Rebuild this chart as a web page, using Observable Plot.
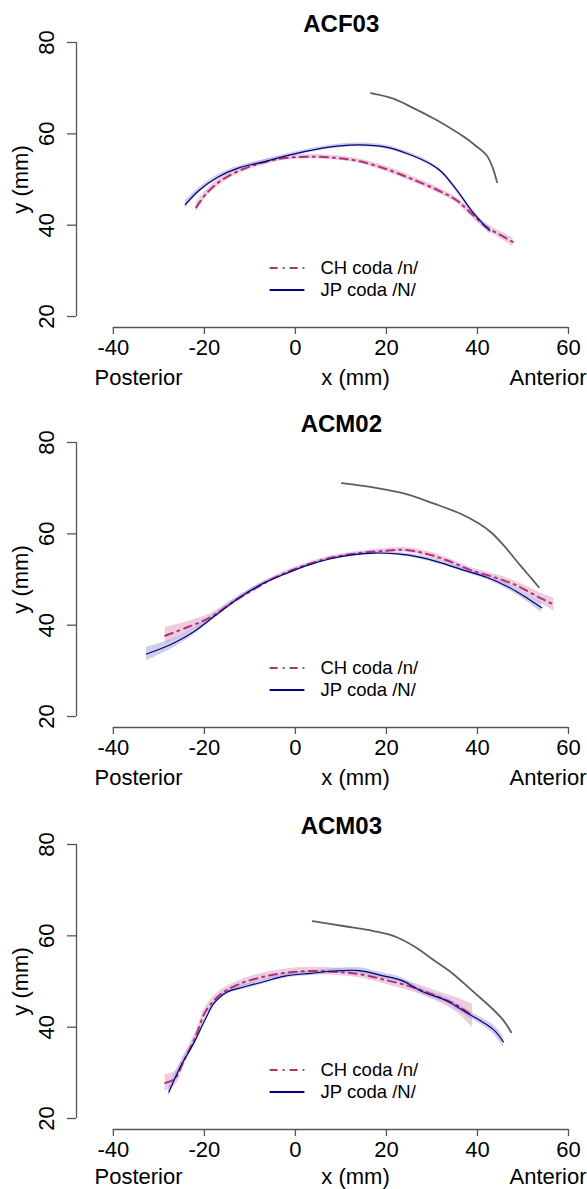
<!DOCTYPE html>
<html><head><meta charset="utf-8">
<script src="https://cdn.jsdelivr.net/npm/d3@7"></script>
<script src="https://cdn.jsdelivr.net/npm/@observablehq/plot@0.6"></script>
<style>
body{margin:0;background:#fff;width:587px;height:1189px;overflow:hidden}
.panel{position:relative;width:587px;overflow:hidden}
</style></head><body><div id="chart"></div><script>
const titles = ["ACF03", "ACM02", "ACM03"];
const xTicks = [-40, -20, 0, 20, 40, 60];
const yTicks = [20, 40, 60, 80];
const legendLabels = ["CH coda /n/", "JP coda /N/"];
const axisLabels = ["Posterior", "x (mm)", "Anterior", "y (mm)"];

// ACF03
const acf03PalX = [16.6,21.5,25.6,30.5,33.8,37.1,39.6,42.0,43.3,44.3];
const acf03PalY = [68.9,67.7,65.8,63.3,61.4,59.3,57.4,55.3,52.7,49.4];
const acf03JpX = [-24.2,-21.2,-17.1,-12.6,-7.2,-0.7,5.1,9.2,14.1,19.9,24.8,29.7,32.2,35.5,38.7,41.2,42.7];
const acf03JpY = [44.5,47.6,50.5,52.5,53.8,55.5,56.7,57.3,57.6,57.1,55.6,53.4,51.6,47.6,43.2,40.3,38.8];
const acf03JpSE = [0.8,0.6,0.5,0.4,0.4,0.4,0.4,0.4,0.4,0.4,0.4,0.4,0.4,0.5,0.5,0.6,0.8];
const acf03ChX = [-21.8,-19.6,-16.3,-12.2,-7.2,-2.3,3.4,9.2,14.1,19.9,25.6,31.4,35.5,38.7,42.0,45.3,47.8];
const acf03ChY = [43.9,46.9,49.8,52.0,53.7,54.7,55.0,54.7,54.0,52.3,50.1,47.6,45.4,42.5,39.6,37.7,36.3];
const acf03ChSE = [1.0,0.8,0.7,0.6,0.6,0.5,0.5,0.5,0.5,0.6,0.6,0.6,0.6,0.7,0.7,0.8,1.0];

// ACM02
const acm02PalX = [10.2,17.4,24.0,30.5,36.3,40.4,42.9,46.1,49.4,51.9,53.5];
const acm02PalY = [71.1,70.1,68.8,66.6,64.4,62.2,60.4,57.1,53.1,50.2,48.3];
const acm02JpX = [-32.7,-26.9,-22.0,-17.1,-12.2,-7.2,-2.3,2.6,7.5,12.5,17.4,22.3,27.2,32.2,37.1,42.0,46.9,51.1,54.1];
const acm02JpY = [33.7,36.0,38.8,42.5,46.1,49.1,51.2,53.1,54.5,55.4,55.8,55.6,54.9,53.6,52.0,50.5,48.3,45.8,43.8];
const acm02JpSE = [1.5,1.0,0.7,0.5,0.4,0.4,0.3,0.3,0.3,0.3,0.3,0.3,0.4,0.4,0.4,0.5,0.6,0.8,1.1];
const acm02ChX = [-28.6,-23.6,-18.7,-13.8,-8.9,-3.9,1.0,7.5,14.1,19.9,24.0,28.9,33.8,38.7,43.7,48.6,53.5,56.8];
const acm02ChY = [37.7,39.6,41.7,45.0,48.0,50.7,52.7,54.7,55.8,56.3,56.5,55.6,54.0,52.0,50.5,48.7,46.1,44.5];
const acm02ChSE = [1.8,1.2,0.8,0.6,0.5,0.4,0.4,0.4,0.4,0.5,0.5,0.6,0.6,0.6,0.7,0.8,1.1,1.4];

// ACM03
const acm03PalX = [3.8,10.8,17.4,22.3,26.4,30.5,34.6,38.7,42.9,45.7,47.4];
const acm03PalY = [63.2,62.1,61.0,59.7,57.5,54.6,51.7,48.1,44.4,41.5,38.9];
const acm03JpX = [-27.8,-25.3,-22.4,-19.9,-17.9,-15.0,-11.3,-7.2,-2.3,3.4,8.4,14.1,19.0,23.2,28.1,33.0,37.9,41.2,43.7,45.7];
const acm03JpY = [25.8,31.3,36.4,41.5,45.2,47.7,48.8,49.9,51.2,51.8,52.3,52.4,51.3,50.3,47.7,45.9,43.0,41.1,39.3,36.8];
const acm03JpSE = [1.0,0.8,0.6,0.5,0.5,0.5,0.5,0.5,0.5,0.5,0.5,0.6,0.6,0.6,0.6,0.6,0.7,0.8,1.0,1.2];
const acm03ChX = [-28.6,-26.5,-24.5,-22.0,-19.6,-16.3,-12.2,-7.2,-2.3,3.4,9.2,14.1,19.9,25.6,30.5,35.5,38.9];
const acm03ChY = [27.8,28.7,32.7,37.8,43.7,47.3,49.5,51.0,51.9,52.3,52.1,51.6,50.3,48.8,47.0,44.8,42.5];
const acm03ChSE = [1.8,1.6,1.2,1.0,1.0,0.9,0.8,0.8,0.8,0.8,0.8,0.8,0.9,1.0,1.1,1.6,2.6];

const panels = [
  {title: titles[0], pal: [acf03PalX, acf03PalY], jp: [acf03JpX, acf03JpY, acf03JpSE], ch: [acf03ChX, acf03ChY, acf03ChSE], h: 400, lab: 377},
  {title: titles[1], pal: [acm02PalX, acm02PalY], jp: [acm02JpX, acm02JpY, acm02JpSE], ch: [acm02ChX, acm02ChY, acm02ChSE], h: 402, lab: 377},
  {title: titles[2], pal: [acm03PalX, acm03PalY], jp: [acm03JpX, acm03JpY, acm03JpSE], ch: [acm03ChX, acm03ChY, acm03ChSE], h: 387, lab: 374}
];

const FONT = "'Liberation Sans', Arial, sans-serif";
const CH_COLOR = "#b0307a", JP_COLOR = "#000080", PAL_COLOR = "#5e5e5e", AXIS_COLOR = "#555";
const CH_DASH = "8,5,2,5";
const xLo = -48.1, yLo = 17.6;
const mL = 76, mR = 19, mT = 42, frameBottom = 327;

function rows(x, y, se) {
  return x.map((v, i) => ({x: v, y: y[i], lo: se ? y[i] - se[i] : null, hi: se ? y[i] + se[i] : null}));
}
// a text placed at pixel position (px, py) of the panel svg, through frame-relative offsets
function label(txt, px, py, opts = {}) {
  return Plot.text([txt], {frameAnchor: "top-left", dx: px - mL, dy: py - mT,
    textAnchor: "middle", lineAnchor: "middle", fill: "black", ...opts});
}

const root = document.getElementById("chart");
for (const p of panels) {
  const pal = rows(p.pal[0], p.pal[1]);
  const jp = rows(...p.jp);
  const ch = rows(...p.ch);
  const svg = Plot.plot({
    width: 587, height: p.h,
    marginLeft: mL, marginRight: mR, marginTop: mT, marginBottom: p.h - frameBottom,
    x: {domain: [xLo, d3.max(xTicks)]},
    y: {domain: [yLo, d3.max(yTicks)]},
    style: {fontFamily: FONT, background: "white", color: "black"},
    marks: [
      Plot.areaY(ch, {x: "x", y1: "lo", y2: "hi", fill: "#e2b0cd", fillOpacity: 0.65, curve: "catmull-rom"}),
      Plot.areaY(jp, {x: "x", y1: "lo", y2: "hi", fill: "#9c9ed6", fillOpacity: 0.5, curve: "catmull-rom"}),
      Plot.line(pal, {x: "x", y: "y", stroke: PAL_COLOR, strokeWidth: 1.8, curve: "catmull-rom"}),
      Plot.line(ch, {x: "x", y: "y", stroke: CH_COLOR, strokeWidth: 2, strokeDasharray: CH_DASH, curve: "catmull-rom"}),
      Plot.line(jp, {x: "x", y: "y", stroke: JP_COLOR, strokeWidth: 1.2, curve: "catmull-rom"}),
      // axes
      Plot.ruleX([xLo], {y1: d3.min(yTicks), y2: d3.max(yTicks), stroke: AXIS_COLOR, strokeWidth: 1.3}),
      Plot.ruleY([yLo], {x1: d3.min(xTicks), x2: d3.max(xTicks), stroke: AXIS_COLOR, strokeWidth: 1.3}),
      Plot.axisX({ticks: xTicks, tickSize: 7, tickPadding: 5, fontSize: 22, label: null, tickFormat: d => String(d),
        stroke: AXIS_COLOR, strokeWidth: 1.3, fill: "black"}),
      Plot.axisY({ticks: yTicks, tickSize: 9, tickFormat: () => "", label: null, stroke: AXIS_COLOR, strokeWidth: 1.3}),
      Plot.text(yTicks, {x: xLo, y: d => d, text: d => String(d), rotate: -90, dx: 46.7 - mL, fontSize: 22, fill: "black",
        textAnchor: "middle", lineAnchor: "middle"}),
      // labels
      label(p.title, 340.8, 23.5, {fontSize: 24, fontWeight: "bold"}),
      label(axisLabels[0], 138, p.lab, {fontSize: 22}),
      label(axisLabels[1], 355, p.lab, {fontSize: 22}),
      label(axisLabels[2], 509, p.lab, {fontSize: 22, textAnchor: "start"}),
      label(axisLabels[3], 20.6, 179, {fontSize: 22, rotate: -90}),
      label(legendLabels[0], 320, 268, {fontSize: 18.5, textAnchor: "start"}),
      label(legendLabels[1], 320, 290, {fontSize: 18.5, textAnchor: "start"})
    ]
  });
  // legend swatches
  const g = d3.select(svg).append("g");
  g.append("line").attr("x1", 269.6).attr("x2", 304.4).attr("y1", 268).attr("y2", 268)
    .attr("stroke", CH_COLOR).attr("stroke-width", 2).attr("stroke-dasharray", CH_DASH);
  g.append("line").attr("x1", 269.6).attr("x2", 304.4).attr("y1", 290).attr("y2", 290)
    .attr("stroke", JP_COLOR).attr("stroke-width", 2);
  const div = document.createElement("div");
  div.className = "panel";
  div.style.height = p.h + "px";
  div.appendChild(svg);
  root.appendChild(div);
}
</script></body></html>
